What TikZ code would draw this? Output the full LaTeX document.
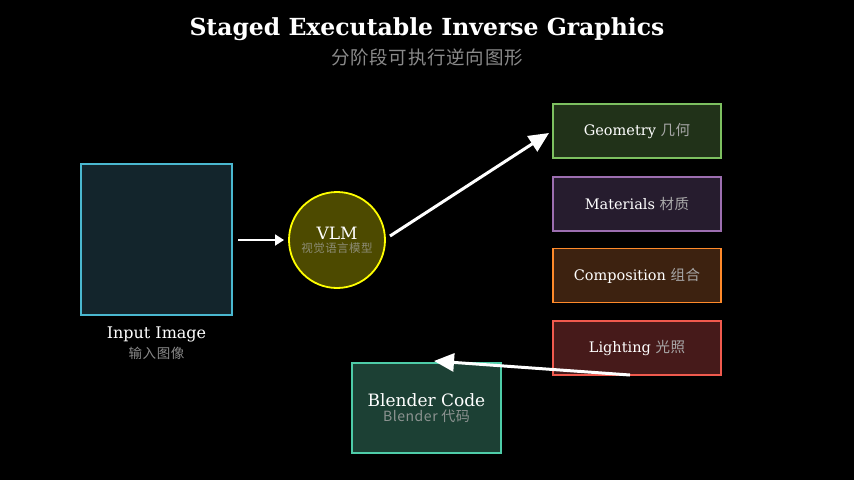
\documentclass[tikz,border=0pt]{standalone}
\usepackage{fontspec}
\setmainfont{DejaVu Serif}
\newfontfamily\cjk{Noto Sans CJK SC}[LetterSpace=4]
\usetikzlibrary{arrows.meta}
\definecolor{subgray}{HTML}{8A8A8A}
\definecolor{cngray}{HTML}{A8A8A8}
\definecolor{inFill}{HTML}{13252C}\definecolor{inLine}{HTML}{4AB8D0}
\definecolor{vlmFill}{HTML}{4D4A00}\definecolor{vlmLine}{HTML}{FFFF00}
\definecolor{geoFill}{HTML}{213219}\definecolor{geoLine}{HTML}{7DC060}
\definecolor{matFill}{HTML}{261C2E}\definecolor{matLine}{HTML}{9C6EB0}
\definecolor{comFill}{HTML}{3D2210}\definecolor{comLine}{HTML}{FF8A2A}
\definecolor{ligFill}{HTML}{461A1A}\definecolor{ligLine}{HTML}{F05A4E}
\definecolor{blFill}{HTML}{1C4034}\definecolor{blLine}{HTML}{4ECCA8}
\tikzset{
  stagebox/.style={draw=#1Line, fill=#1Fill, line width=1.6pt, minimum width=168pt, minimum height=54pt, inner sep=0pt, text=white, font=\fontsize{14.5}{16}\selectfont},
  flow/.style={draw=white, line width=3pt, -{Triangle[length=20pt,width=18pt]}}
}
\begin{document}
\begin{tikzpicture}[x=1pt,y=-1pt]
\fill[black] (0,0) rectangle (854,480);
\useasboundingbox (0,0) rectangle (854,480);
\node[text=white, font=\bfseries\fontsize{23.5}{26}\selectfont] (title) at (427,29) {Staged Executable Inverse Graphics};
\node[text=subgray, font=\cjk\fontsize{18.5}{22}\selectfont] (subtitle) at (427,57) {分阶段可执行逆向图形};
% input
\node[draw=inLine, fill=inFill, line width=1.6pt, minimum width=151pt, minimum height=151pt, inner sep=0pt] (input) at (156.5,239.5) {};
\node[text=white, font=\fontsize{16}{18}\selectfont] (inlabel) at (156.5,334.5) {Input Image};
\node[font=\cjk\fontsize{13.5}{15}\selectfont, text=subgray] (incn) at (156.5,353) {输入图像};
% VLM
\node[circle, draw=vlmLine, fill=vlmFill, line width=1.8pt, minimum size=96pt, inner sep=0pt] (vlm) at (337,240) {};
\node[text=white, font=\fontsize{17}{19}\selectfont] (vlmt) at (337,233.5) {VLM};
\node[text=cngray!70!vlmFill, font=\cjk\fontsize{11.5}{13}\selectfont] (vlmcn) at (337,248) {视觉语言模型};
% stages
\node[stagebox=geo] (geo) at (637,131) {Geometry {\cjk\color{cngray}几何}};
\node[stagebox=mat] (mat) at (637,204) {Materials {\cjk\color{cngray}材质}};
\node[stagebox=com] (com) at (637,275.5) {Composition {\cjk\color{cngray}组合}};
\node[stagebox=lig] (lig) at (637,348) {Lighting {\cjk\color{cngray}光照}};
% blender
\node[draw=blLine, fill=blFill, line width=1.6pt, minimum width=149pt, minimum height=90pt, inner sep=0pt] (bl) at (426.5,408) {};
\node[text=white, font=\fontsize{17}{19}\selectfont] (blt) at (426.5,400.5) {Blender Code};
\node[text=cngray!80!blFill, font=\cjk\fontsize{14}{16}\selectfont] (blcn) at (426.5,416.5) {Blender 代码};
% arrows
\coordinate (a1s) at (238,240);
\coordinate (a1e) at (284,240);
\draw[draw=white, line width=1.8pt, -{Triangle[length=9pt,width=11pt]}] (a1s) -- (a1e);
\coordinate (a2s) at (390,236);
\coordinate (a2e) at (549,133);
\draw[flow] (a2s) -- (a2e);
\coordinate (a3s) at (630,375);
\coordinate (a3e) at (434,361);
\draw[flow] (a3s) -- (a3e);
\end{tikzpicture}
\end{document}
